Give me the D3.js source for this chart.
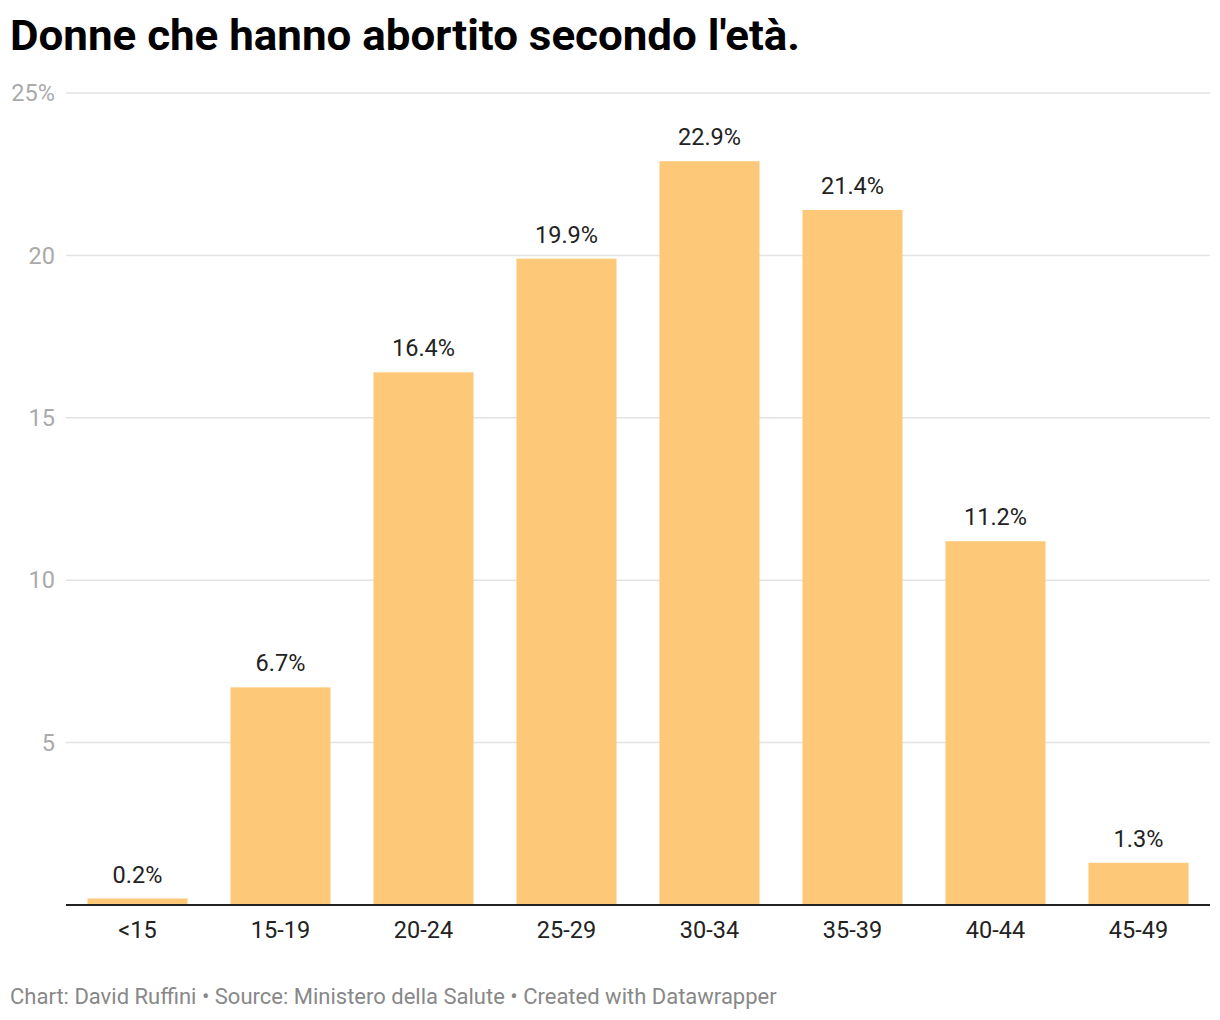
<!DOCTYPE html>
<html><head><meta charset="utf-8">
<script src="https://cdn.jsdelivr.net/npm/d3@7"></script>
<style>body{margin:0;background:#fff;}svg{display:block;font-family:Roboto,sans-serif;}</style>
</head><body>
<svg id="c" width="1220" height="1020"></svg>
<script>
const categories = ["<15","15-19","20-24","25-29","30-34","35-39","40-44","45-49"];
const values = [0.2,6.7,16.4,19.9,22.9,21.4,11.2,1.3];
const valueLabels = ["0.2%","6.7%","16.4%","19.9%","22.9%","21.4%","11.2%","1.3%"];
const yTicks = [5,10,15,20,25];
const yTickLabels = ["5","10","15","20","25%"];
const title = "Donne che hanno abortito secondo l'età.";
const footer = "Chart: David Ruffini • Source: Ministero della Salute • Created with Datawrapper";

const svg = d3.select("#c");
const x = d3.scaleBand().domain(categories).range([66,1210]).paddingInner(0.3).paddingOuter(0.15);
const y = d3.scaleLinear().domain([0,25]).range([905,93]);

svg.append("text").attr("x",10).attr("y",50).attr("font-size",43).attr("font-weight",700)
  .attr("fill","#000").attr("textLength",790).attr("lengthAdjust","spacingAndGlyphs").text(title);

const g = svg.append("g");
g.selectAll("line.grid").data(yTicks).join("line").attr("class","grid")
  .attr("x1",66).attr("x2",1210).attr("y1",d=>y(d)).attr("y2",d=>y(d))
  .attr("stroke","#e3e3e3").attr("stroke-width",1.5);
g.selectAll("text.yl").data(yTicks).join("text").attr("class","yl")
  .attr("x",55).attr("y",d=>y(d)).attr("dy","0.35em").attr("text-anchor","end")
  .attr("font-size",23.5).attr("fill","#aaa").text((d,i)=>yTickLabels[i]);

g.selectAll("rect").data(values).join("rect")
  .attr("x",(d,i)=>x(categories[i])).attr("width",x.bandwidth())
  .attr("y",d=>y(d)).attr("height",d=>y(0)-y(d)).attr("fill","#fdc978");

g.selectAll("text.vl").data(values).join("text").attr("class","vl")
  .attr("x",(d,i)=>x(categories[i])+x.bandwidth()/2).attr("y",d=>y(d)-16)
  .attr("text-anchor","middle").attr("font-size",23.5).attr("fill","#222").text((d,i)=>valueLabels[i]);

g.append("line").attr("x1",66).attr("x2",1210).attr("y1",y(0)).attr("y2",y(0)).attr("stroke","#222").attr("stroke-width",2);

g.selectAll("text.xl").data(categories).join("text").attr("class","xl")
  .attr("x",d=>x(d)+x.bandwidth()/2).attr("y",938).attr("text-anchor","middle")
  .attr("font-size",23.5).attr("fill","#222").text(d=>d);

svg.append("text").attr("x",10).attr("y",1004).attr("font-size",22).attr("fill","#888").text(footer);
</script>
</body></html>
